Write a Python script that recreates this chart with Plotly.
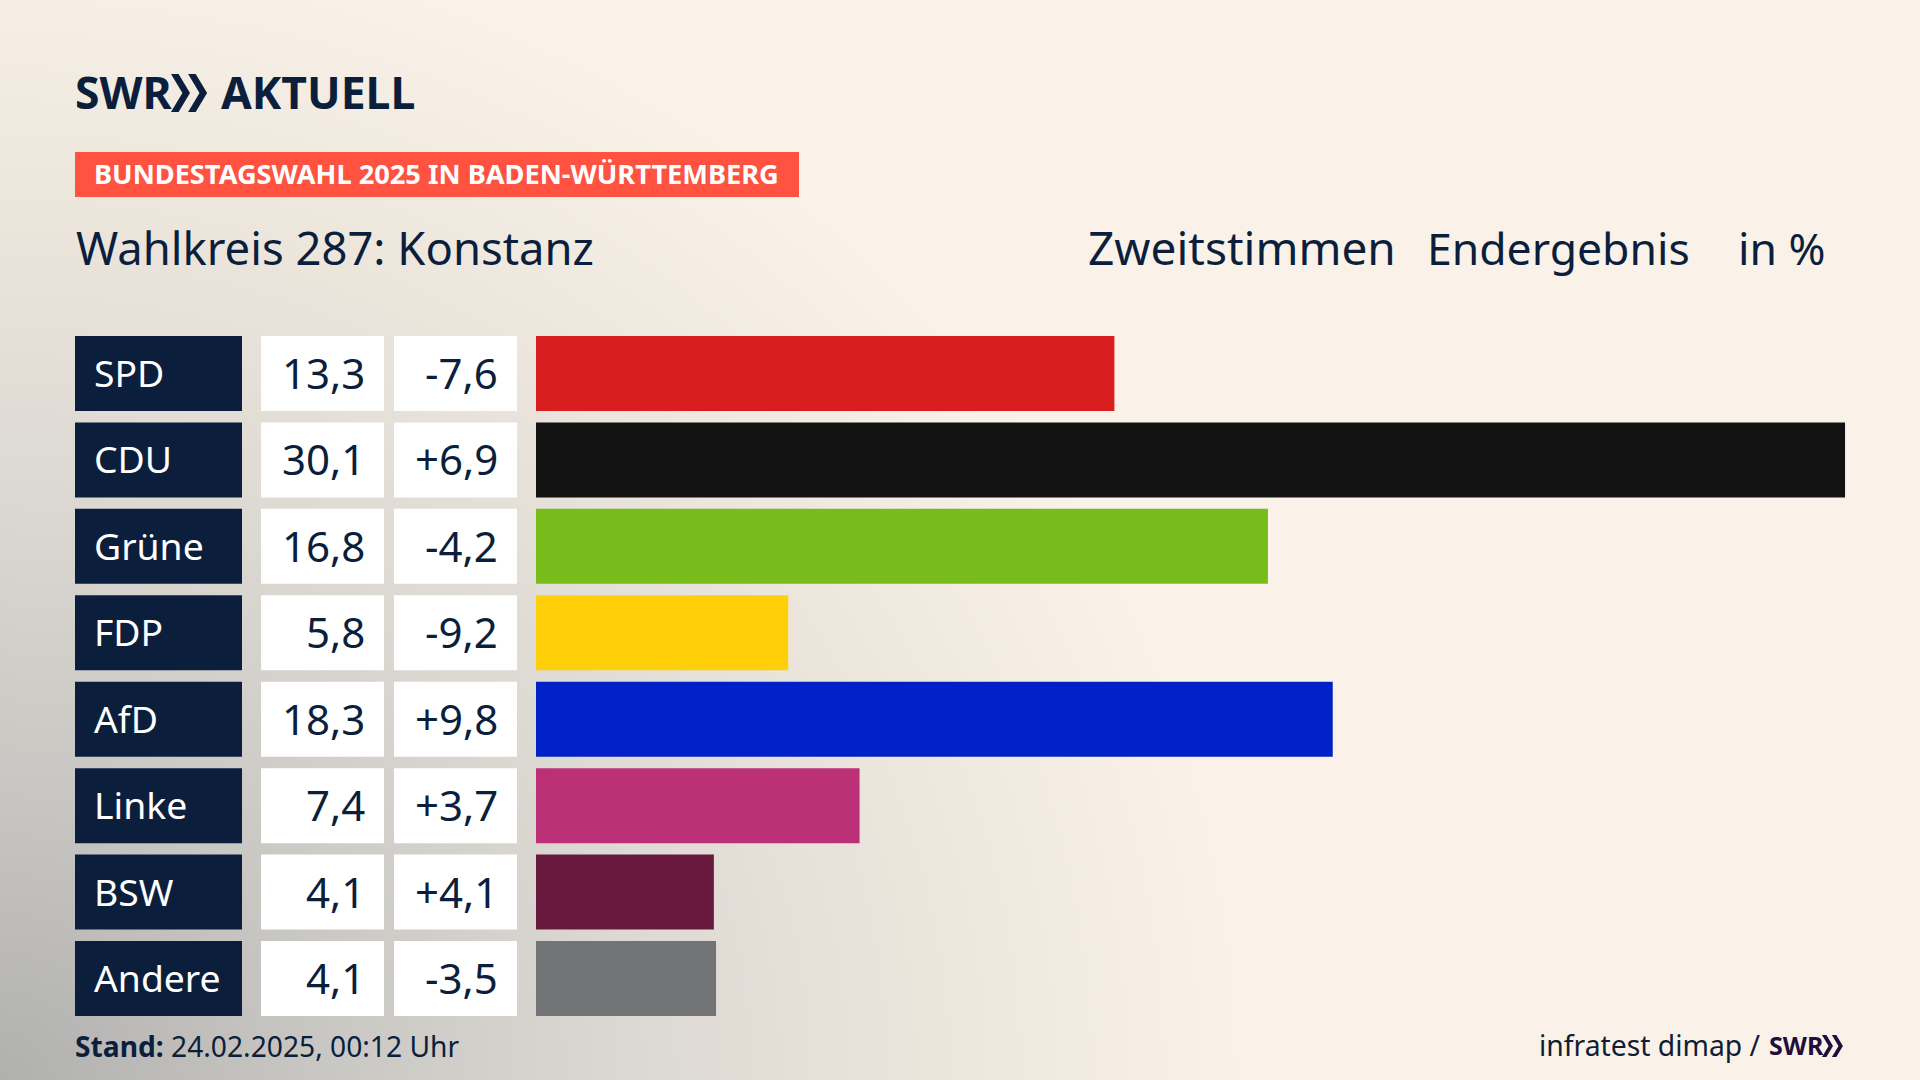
import base64
import plotly.graph_objects as go

# ---------- data ----------
parties = ["SPD", "CDU", "Grüne", "FDP", "AfD", "Linke", "BSW", "Andere"]
shares = [13.3, 30.1, 16.83, 5.8, 18.32, 7.44, 4.09, 4.14]
changes = [-7.6, 6.9, -4.2, -9.2, 9.8, 3.7, 4.1, -3.5]
bar_colors = ["#D81E1E", "#121212", "#78BC1B", "#FFCF0A", "#0020C8", "#BB3076", "#69193E", "#737475"]

NAVY = "#0B1F3D"
FONT = "Noto Sans"
W, H = 1920, 1080
PX_PER_UNIT = 43.49
BAR_X0 = 536
ROW_PITCH = 86.43
ROW0_CENTER = 373.5
ROW_H = 75


def fmt(v, sign=False):
    s = f"{v:+.1f}" if sign else f"{v:.1f}"
    return s.replace(".", ",")


def px(x):
    return x / W


def py(y):
    return 1 - y / H


svg = f"""<svg xmlns='http://www.w3.org/2000/svg' width='{W}' height='{H}' viewBox='0 0 {W} {H}'>
<defs><radialGradient id='g' gradientUnits='userSpaceOnUse' cx='0' cy='0' r='1' gradientTransform='translate(0 {H}) scale(1240 1150)'>
<stop offset='0' stop-color='#B0B0AF'/><stop offset='0.25' stop-color='#C8C6C2'/>
<stop offset='0.5' stop-color='#DBD8D2'/><stop offset='0.75' stop-color='#EBE5DC'/>
<stop offset='1' stop-color='#FAF2E8'/></radialGradient></defs>
<rect width='{W}' height='{H}' fill='url(#g)'/></svg>"""
bg = "data:image/svg+xml;base64," + base64.b64encode(svg.encode()).decode()

fig = go.Figure(
    go.Bar(
        x=shares,
        y=parties,
        orientation="h",
        marker=dict(color=bar_colors, line_width=0),
        hoverinfo="skip",
    )
)

shapes = []
ann = []


def rect(x0, x1, y0, y1, color):
    shapes.append(dict(type="rect", xref="paper", yref="paper", x0=px(x0), x1=px(x1), y0=py(y0), y1=py(y1),
                       fillcolor=color, line_width=0, layer="below"))


def text(t, x, y, size, color=NAVY, anchor="left", family=FONT, yref="paper", yshift=0):
    ann.append(dict(text=t, x=px(x), y=py(y) if yref == "paper" else y, xref="paper", yref=yref,
                    xanchor=anchor, yanchor="middle", showarrow=False, align=anchor, yshift=yshift,
                    font=dict(family=family, size=size, color=color)))


def chevrons(x, y, h, color):
    w = h * 0.30
    t = h * 0.20
    d = ""
    for k in (0, 1):
        ox = x + k * h * 0.45
        d += (f"M{px(ox)} {py(y - h/2)} L{px(ox + t)} {py(y - h/2)} L{px(ox + t + w)} {py(y)} "
              f"L{px(ox + t)} {py(y + h/2)} L{px(ox)} {py(y + h/2)} L{px(ox + w)} {py(y)} Z ")
    shapes.append(dict(type="path", xref="paper", yref="paper", path=d, fillcolor=color, line_width=0))


# rows
for i, (p, s, c) in enumerate(zip(parties, shares, changes)):
    cy = ROW0_CENTER + i * ROW_PITCH
    rect(75, 242, cy - ROW_H / 2, cy + ROW_H / 2, NAVY)
    rect(261, 384, cy - ROW_H / 2, cy + ROW_H / 2, "#FFFFFF")
    rect(394, 517, cy - ROW_H / 2, cy + ROW_H / 2, "#FFFFFF")
    text(p, 92, p, 37.3, "#FFFFFF", yref="y", yshift=1)
    text(fmt(s), 367, p, 42, NAVY, "right", yref="y", yshift=1)
    text(fmt(c, sign=c > 0), 500, p, 42, NAVY, "right", yref="y", yshift=1)

# header
text("<b>SWR</b>", 73, 92, 44.5, NAVY)
chevrons(171, 93, 38, NAVY)
text("<b>AKTUELL</b>", 219, 92, 44.5, NAVY)
rect(75, 799, 152, 197, "#FF5240")
text("<b>BUNDESTAGSWAHL 2025 IN BADEN-WÜRTTEMBERG</b>", 92, 174, 27.2, "#FFFFFF")
text("Wahlkreis 287: Konstanz", 74, 247, 45.4)
text("Zweitstimmen", 1086, 247, 46)
text("Endergebnis", 1425, 247, 44.5)
text("in %", 1736, 247, 44.5)

# footer
text("<b>Stand:</b> 24.02.2025, 00:12 Uhr", 73, 1046, 28.2)
text("infratest dimap / ", 1537, 1045, 28.3, "#0F1D36")
text("<b>SWR</b>", 1767, 1045, 25, "#1E0F3C")
chevrons(1822, 1046, 22, "#1E0F3C")

fig.update_layout(
    width=W, height=H,
    margin=dict(l=0, r=0, t=0, b=0),
    paper_bgcolor="rgba(0,0,0,0)", plot_bgcolor="rgba(0,0,0,0)",
    showlegend=False,
    bargap=1 - ROW_H / ROW_PITCH,
    xaxis=dict(range=[-BAR_X0 / PX_PER_UNIT, (W - BAR_X0) / PX_PER_UNIT], visible=False, domain=[0, 1]),
    yaxis=dict(type="category", categoryorder="array", categoryarray=parties,
               range=[(H - ROW0_CENTER) / ROW_PITCH, -ROW0_CENTER / ROW_PITCH], visible=False, domain=[0, 1]),
    shapes=shapes,
    annotations=ann,
    images=[dict(source=bg, xref="paper", yref="paper", x=0, y=1, sizex=1, sizey=1,
                 xanchor="left", yanchor="top", sizing="stretch", layer="below")],
)
fig.write_html("out.html", config=dict(displayModeBar=False),
               post_script="document.body.style.margin='0';document.body.style.overflow='hidden';document.body.style.background='#FAF2E8';")
